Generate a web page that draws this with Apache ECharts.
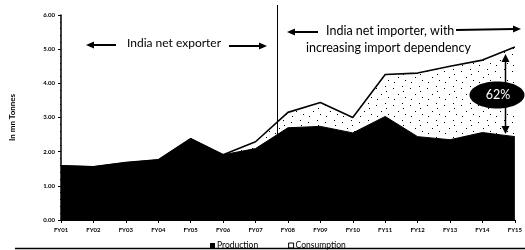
<!DOCTYPE html>
<html><head><meta charset="utf-8">
<script src="https://cdn.jsdelivr.net/npm/echarts@6/dist/echarts.min.js"></script>
<style>html,body{margin:0;padding:0;background:#fff}#c{width:525px;height:250px}</style>
</head><body><div id="c"></div>
<script>
const categories = ['FY01','FY02','FY03','FY04','FY05','FY06','FY07','FY08','FY09','FY10','FY11','FY12','FY13','FY14','FY15'];
const production = [1.59,1.56,1.68,1.76,2.38,1.91,2.09,2.70,2.74,2.55,3.03,2.44,2.35,2.56,2.44];
const consumption = [1.59,1.56,1.68,1.76,2.38,1.91,2.29,3.15,3.44,3.00,4.26,4.30,4.50,4.68,5.06];
const yTicks = ['0.00','1.00','2.00','3.00','4.00','5.00','6.00'];

// stipple pattern
const pc = document.createElement('canvas');
pc.width = 17; pc.height = 17;
const px = pc.getContext('2d');
px.fillStyle = '#fff'; px.fillRect(0,0,17,17);
px.fillStyle = '#000';
[[2,3],[11,1],[7,9],[14,12],[3,14],[12,6]].forEach(p=>px.fillRect(p[0],p[1],1,1));

const chart = echarts.init(document.getElementById('c'), null, {renderer:'canvas'});
const F = 'Lato, "Open Sans", sans-serif';
const lab = {fontFamily:F, fontWeight:'bold', color:'#000'};
chart.setOption({
  animation:false,
  backgroundColor:'#fff',
  grid:{left:61, right:3, top:15, bottom:30},
  xAxis:{type:'category', data:categories, boundaryGap:false,
    axisLine:{lineStyle:{color:'#000', width:1}},
    axisTick:{show:true, length:3, lineStyle:{color:'#000'}},
    axisLabel:Object.assign({fontSize:6, margin:7}, lab),
    splitLine:{show:false}},
  yAxis:{type:'value', min:0, max:6, interval:1,
    axisLine:{show:true, lineStyle:{color:'#000', width:1.5}},
    axisTick:{show:true, length:3, lineStyle:{color:'#000'}},
    minorTick:{show:true, splitNumber:5, length:1, lineStyle:{color:'#000'}},
    axisLabel:Object.assign({fontSize:6, margin:6, formatter:(v)=>yTicks[Math.round(v)]}, lab),
    splitLine:{show:false},
    name:'In mn Tonnes', nameLocation:'middle', nameGap:45,
    nameTextStyle:{fontFamily:F, fontWeight:'bold', fontSize:8, color:'#000'}},
  legend:{left:205, top:236, itemWidth:5, itemHeight:5, itemGap:30,
    textStyle:{fontFamily:F, fontSize:8.5, color:'#000', padding:[0,0,0,-3]},
    data:[{name:'Production', icon:'rect', itemStyle:{color:'#000'}},
          {name:'Consumption', icon:'rect', itemStyle:{color:'#fff', borderColor:'#000', borderWidth:1}}]},
  series:[
    {name:'Consumption', type:'line', data:consumption, symbol:'none', z:2,
      lineStyle:{color:'#000', width:1.6},
      itemStyle:{color:'#fff'},
      areaStyle:{color:{image:pc, repetition:'repeat'}, opacity:1}},
    {name:'Production', type:'line', data:production, symbol:'none', z:3,
      lineStyle:{color:'#000', width:1},
      itemStyle:{color:'#000'},
      areaStyle:{color:'#000', opacity:1}}
  ],
  graphic:[
    // divider
    {type:'line', shape:{x1:277.5, y1:5, x2:277.5, y2:220}, style:{stroke:'#000', lineWidth:1}, z:10},
    // bottom rule
    {type:'line', shape:{x1:15, y1:248.5, x2:525, y2:248.5}, style:{stroke:'#000', lineWidth:1.5}, z:10},
    // exporter
    {type:'text', left:127, top:37, style:{text:'India net exporter', font:'12px '+F, fill:'#000'}, z:10},
    {type:'line', shape:{x1:92, y1:45, x2:116, y2:45}, style:{stroke:'#000', lineWidth:2}, z:10},
    {type:'polygon', shape:{points:[[86,45],[94,41.5],[94,48.5]]}, style:{fill:'#000'}, z:10},
    {type:'line', shape:{x1:229, y1:46, x2:260, y2:46}, style:{stroke:'#000', lineWidth:2}, z:10},
    {type:'polygon', shape:{points:[[267,46],[259,42.5],[259,49.5]]}, style:{fill:'#000'}, z:10},
    // importer
    {type:'text', left:326, top:24, style:{text:'India net importer, with', font:'12.5px '+F, fill:'#000'}, z:10},
    {type:'text', left:306, top:41, style:{text:'increasing import dependency', font:'12.5px '+F, fill:'#000'}, z:10},
    {type:'line', shape:{x1:293, y1:32, x2:318, y2:32}, style:{stroke:'#000', lineWidth:2}, z:10},
    {type:'polygon', shape:{points:[[287,32],[295,28.5],[295,35.5]]}, style:{fill:'#000'}, z:10},
    {type:'line', shape:{x1:456, y1:30, x2:514, y2:29}, style:{stroke:'#000', lineWidth:2}, z:10},
    {type:'polygon', shape:{points:[[521,29],[513,25.5],[513,32.5]]}, style:{fill:'#000'}, z:10},
    // 62% annotation
    {type:'line', shape:{x1:505.5, y1:60, x2:505.5, y2:128}, style:{stroke:'#000', lineWidth:1.5}, z:11},
    {type:'polygon', shape:{points:[[505.5,54],[501.5,62],[509.5,62]]}, style:{fill:'#000'}, z:11},
    {type:'polygon', shape:{points:[[505.5,134],[501.5,126],[509.5,126]]}, style:{fill:'#000'}, z:11},
    {type:'ellipse', shape:{cx:497, cy:95, rx:27.5, ry:13.5}, style:{fill:'#000'}, z:12},
    {type:'text', x:498, y:95, style:{text:'62%', font:'12.5px '+F, fill:'#fff', textAlign:'center', textVerticalAlign:'middle'}, z:13}
  ]
});
</script>
</body></html>
